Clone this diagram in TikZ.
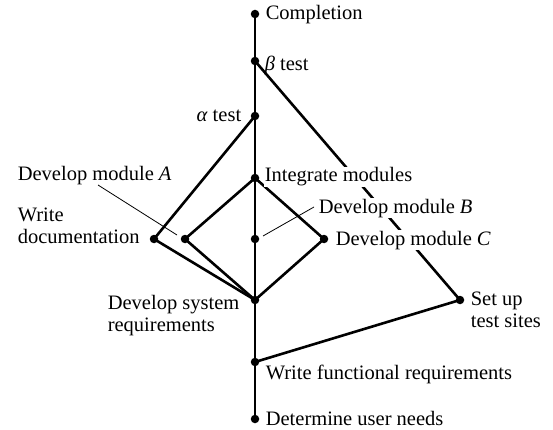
\documentclass[tikz,border=0pt]{standalone}
\usepackage{fontspec}
\setmainfont{Liberation Serif}
\begin{document}
\begin{tikzpicture}[x=1pt,y=-1pt,
  font=\fontsize{20.5}{22}\selectfont,
  dot/.style={circle,fill,inner sep=0pt,minimum size=8.5pt},
  edge/.style={line width=2.6pt},
  leader/.style={line width=0.8pt},
  lbl/.style={inner sep=0.6pt,align=left,fill=white},
  plainlbl/.style={inner sep=0.6pt,align=left}]
\useasboundingbox (0,0) rectangle (553,430);
% event nodes
\node[dot] (comp)  at (255,14)  {};
\node[dot] (beta)  at (255,61)  {};
\node[dot] (alpha) at (255,116) {};
\node[dot] (integ) at (255,178) {};
\node[dot] (modB)  at (255,239) {};
\node[dot] (dsr)   at (255,300) {};
\node[dot] (wfr)   at (255,362) {};
\node[dot] (dun)   at (255,419) {};
\node[dot] (doc)   at (154,239) {};
\node[dot] (modA)  at (185,239) {};
\node[dot] (modC)  at (324,239) {};
\node[dot] (sts)   at (460,300) {};
% edges
\draw[edge] (comp.center) -- (dun.center);
\draw[edge] (beta.center) -- (sts.center) -- (wfr.center);
\draw[edge] (alpha.center) -- (doc.center) -- (dsr.center);
\draw[edge] (integ.center) -- (modA.center) -- (dsr.center) -- (modC.center) -- (integ.center);
% labels (multi-line labels: base = last line's baseline)
\node[lbl,anchor=base west] (lcomp) at (265,20) {Completion};
\node[plainlbl,anchor=base west] (lbeta) at (264,71) {\textit{β} test};
\node[lbl,anchor=base east] (lalpha) at (242,122) {\textit{α} test};
\node[lbl,anchor=base west] (linteg) at (264,182) {Integrate modules};
\node[lbl,anchor=base west] (lmodA) at (17,181) {Develop module \textit{A}};
\node[lbl,anchor=base west] (lmodB) at (318,213) {Develop module \textit{B}};
\node[lbl,anchor=base west] (lmodC) at (335,245) {Develop module \textit{C}};
\node[lbl,anchor=base west] (ldoc) at (17,243) {Write\\documentation};
\node[lbl,anchor=base west] (ldsr) at (107,331) {Develop system\\requirements};
\node[lbl,anchor=base west] (lsts) at (470,327) {Set up\\test sites};
\node[lbl,anchor=base west] (lwfr) at (265,379) {Write functional requirements};
\node[lbl,anchor=base west] (ldun) at (265,425) {Determine user needs};
% leader lines
\coordinate (aS) at (98,185);
\coordinate (aE) at (177,235);
\coordinate (bS) at (263,236);
\coordinate (bE) at (314,207);
\draw[leader] (aS) -- (aE);
\draw[leader] (bS) -- (bE);
\end{tikzpicture}
\end{document}
